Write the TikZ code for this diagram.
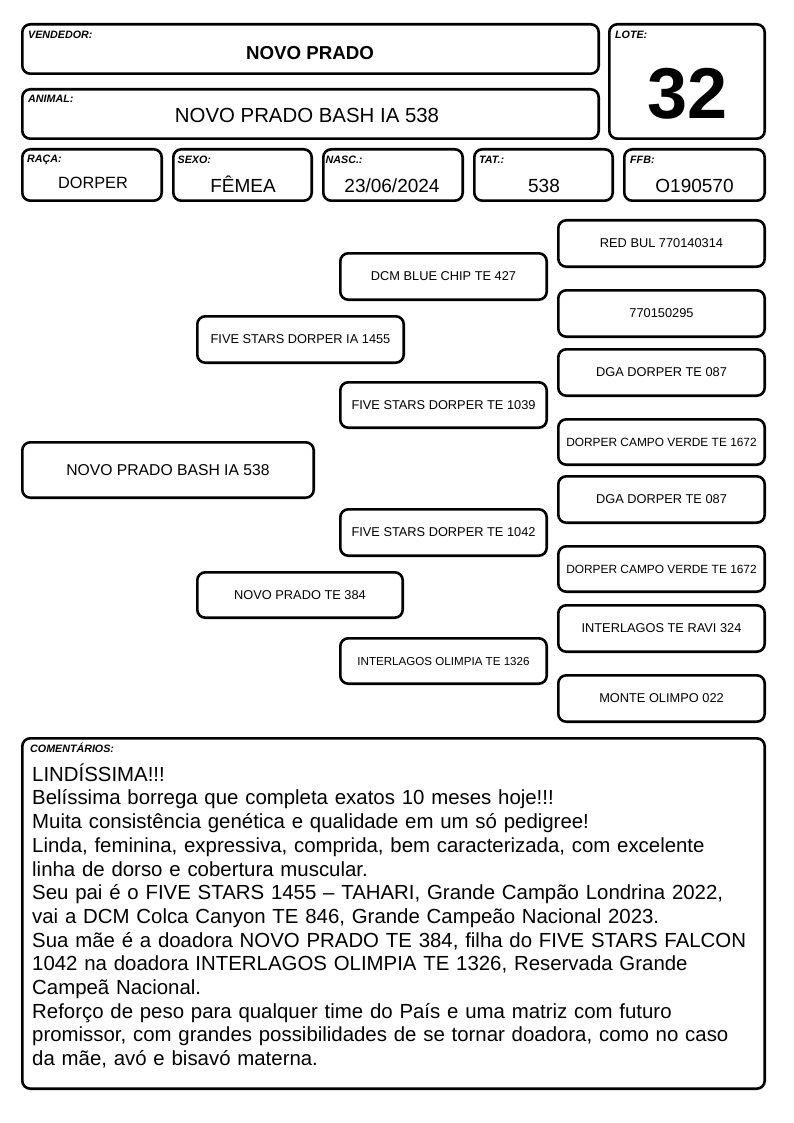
\documentclass[tikz,border=0pt]{standalone}
\usepackage{fontspec}
\setmainfont{Liberation Sans}
\tikzset{
  box/.style={draw, line width=2.6pt, rounded corners=8pt, inner sep=0pt, align=center},
  lbl/.style={anchor=base west, inner sep=0pt, font=\fontsize{10.7}{12}\selectfont\bfseries\itshape},
  val/.style={anchor=base, inner sep=0pt},
  ped/.style={font=\fontsize{12.8}{14}\selectfont},
}
\newcommand\mybox[7]{%
  \node[box, font=#6, minimum width={#4-#2-2.6}, minimum height={#5-#3-2.6}] (#1) at ({(#2+#4)/2},{(#3+#5)/2}) {#7};}
\begin{document}
\begin{tikzpicture}[x=1pt,y=-1pt]
\useasboundingbox (0,0) rectangle (794,1123);
% header boxes
\mybox{vend}{21}{23}{600}{75}{}{}
\mybox{anim}{21}{88}{600}{140}{}{}
\mybox{lote}{608}{23}{766}{140}{}{}
\mybox{raca}{21}{148}{163}{202}{}{}
\mybox{sexo}{172}{148}{313}{202}{}{}
\mybox{nasc}{322}{148}{464}{202}{}{}
\mybox{tat}{473}{148}{614}{202}{}{}
\mybox{ffb}{623}{148}{766}{202}{}{}
% labels
\node[lbl] (lvend) at (28,38.5) {VENDEDOR:};
\node[lbl] (lanim) at (28,103) {ANIMAL:};
\node[lbl] (llote) at (615,38.5) {LOTE:};
\node[lbl] (lraca) at (27,162.5) {RAÇA:};
\node[lbl] (lsexo) at (177.5,164) {SEXO:};
\node[lbl] (lnasc) at (325.5,164) {NASC.:};
\node[lbl] (ltat) at (479,164) {TAT.:};
\node[lbl] (lffb) at (630,164) {FFB:};
% values
\node[val, font=\fontsize{18.7}{20}\selectfont\bfseries] (vvend) at (310,60) {NOVO PRADO};
\node[val, font=\fontsize{20.4}{22}\selectfont] (vanim) at (307,123) {NOVO PRADO BASH IA 538};
\node[val, font=\fontsize{72}{74}\selectfont\bfseries] (vlote) at (687.5,119) {32};
\node[val, font=\fontsize{16.3}{18}\selectfont] (vraca) at (93,188.3) {DORPER};
\node[val, font=\fontsize{19}{20}\selectfont] (vsexo) at (243,192.5) {FÊMEA};
\node[val, font=\fontsize{19}{20}\selectfont] (vnasc) at (392,192.5) {23/06/2024};
\node[val, font=\fontsize{19}{20}\selectfont] (vtat) at (544,192.5) {538};
\node[val, font=\fontsize{19}{20}\selectfont] (vffb) at (694.5,192.5) {O190570};
% pedigree
\mybox{a0}{21}{441}{315}{499}{\fontsize{15.7}{17}\selectfont}{NOVO PRADO BASH IA 538}
\mybox{s}{196}{315}{405}{364}{\fontsize{12.8}{14}\selectfont}{FIVE STARS DORPER IA 1455}
\mybox{d}{196}{571}{404}{619}{\fontsize{12.8}{14}\selectfont}{NOVO PRADO TE 384}
\mybox{ss}{339}{252}{548}{301}{\fontsize{12.8}{14}\selectfont}{DCM BLUE CHIP TE 427}
\mybox{sd}{339}{381}{548}{429}{\fontsize{12.8}{14}\selectfont}{FIVE STARS DORPER TE 1039}
\mybox{ds}{339}{508}{548}{557}{\fontsize{12.8}{14}\selectfont}{FIVE STARS DORPER TE 1042}
\mybox{dd}{339}{637}{548}{685}{\fontsize{11.6}{13}\selectfont}{INTERLAGOS OLIMPIA TE 1326}
\mybox{sss}{557}{219}{766}{268}{\fontsize{12.8}{14}\selectfont}{RED BUL 770140314}
\mybox{ssd}{557}{289}{766}{338}{\fontsize{12.8}{14}\selectfont}{770150295}
\mybox{sds}{557}{348}{766}{397}{\fontsize{12.8}{14}\selectfont}{DGA DORPER TE 087}
\mybox{sdd}{557}{418}{766}{466}{\fontsize{11.9}{13}\selectfont}{DORPER CAMPO VERDE TE 1672}
\mybox{dss}{557}{475}{766}{524}{\fontsize{12.8}{14}\selectfont}{DGA DORPER TE 087}
\mybox{dsd}{557}{545}{766}{593}{\fontsize{11.9}{13}\selectfont}{DORPER CAMPO VERDE TE 1672}
\mybox{dds}{557}{604}{766}{653}{\fontsize{12.8}{14}\selectfont}{INTERLAGOS TE RAVI 324}
\mybox{ddd}{557}{674}{766}{723}{\fontsize{12.8}{14}\selectfont}{MONTE OLIMPO 022}
% comments
\mybox{com}{21}{737}{766}{1090}{}{}
\node[lbl] (lcom) at (30,752.5) {COMENTÁRIOS:};
\node[anchor=north west, inner sep=0pt, text width=745pt, align=left,
      font=\fontsize{20.4}{23.7}\selectfont] (ctext) at (32,760) {%
\rule{0pt}{21pt}LINDÍSSIMA!!!\\
Belíssima borrega que completa exatos 10 meses hoje!!!\\
Muita consistência genética e qualidade em um só pedigree!\\
Linda, feminina, expressiva, comprida, bem caracterizada, com excelente\\
linha de dorso e cobertura muscular.\\
Seu pai é o FIVE STARS 1455 – TAHARI, Grande Campão Londrina 2022,\\
vai a DCM Colca Canyon TE 846, Grande Campeão Nacional 2023.\\
Sua mãe é a doadora NOVO PRADO TE 384, filha do FIVE STARS FALCON\\
1042 na doadora INTERLAGOS OLIMPIA TE 1326, Reservada Grande\\
Campeã Nacional.\\
Reforço de peso para qualquer time do País e uma matriz com futuro\\
promissor, com grandes possibilidades de se tornar doadora, como no caso\\
da mãe, avó e bisavó materna.};
\end{tikzpicture}
\end{document}
